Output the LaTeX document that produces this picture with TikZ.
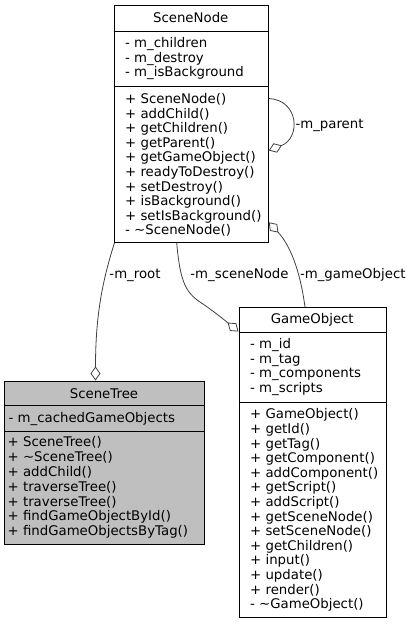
\documentclass[tikz,border=0pt]{standalone}
\usepackage{fontspec}
\setmainfont{DejaVu Sans}
\usetikzlibrary{arrows.meta,calc}
\definecolor{edgec}{HTML}{404040}
\definecolor{hlfill}{HTML}{BFBFBF}
\begin{document}
\begin{tikzpicture}[x=1pt,y=-1pt,
  classbox/.style={draw=black, line width=0.8pt, inner sep=0pt, anchor=north west},
  divider/.style={draw=black, line width=0.8pt},
  txt/.style={inner sep=0pt, yshift=-2.2pt, font=\fontsize{13.3pt}{14.6pt}\selectfont},
  mem/.style={txt, anchor=mid west},
  head/.style={txt, anchor=mid},
  elabel/.style={txt, anchor=mid},
  assoc/.style={draw=edgec, line width=0.8pt, -{Diamond[open, length=14pt, width=10pt]}}
]
\useasboundingbox (0,0) rectangle (411,624);

% ---------- SceneNode ----------
\node[classbox, minimum width=154.5pt, minimum height=237pt] (sn) at (113.5,5) {};
\draw[divider] (sn.west |- 0,31) -- (sn.east |- 0,31);
\draw[divider] (sn.west |- 0,86.5) -- (sn.east |- 0,86.5);
\node[head] (snh) at (190.75,18) {SceneNode};
\foreach \t [count=\i] in {- m\_children, - m\_destroy, - m\_isBackground}
  \node[mem] (sna\i) at (125, 28.5+14.5*\i) {\t};
\foreach \t [count=\i] in {+ SceneNode(), + addChild(), + getChildren(), + getParent(), + getGameObject(), + readyToDestroy(), + setDestroy(), + isBackground(), + setIsBackground(), - \textasciitilde SceneNode()}
  \node[mem] (snm\i) at (125, 84+14.6*\i) {\t};

% ---------- SceneTree ----------
\node[classbox, fill=hlfill, minimum width=200pt, minimum height=163pt] (st) at (4,380.5) {};
\draw[divider] (st.west |- 0,405.5) -- (st.east |- 0,405.5);
\draw[divider] (st.west |- 0,431.5) -- (st.east |- 0,431.5);
\node[head] (sth) at (104,393.5) {SceneTree};
\node[mem] (sta1) at (8.5,417.5) {- m\_cachedGameObjects};
\foreach \t [count=\i] in {+ SceneTree(), + \textasciitilde SceneTree(), + addChild(), + traverseTree(), + traverseTree(), + findGameObjectById(), + findGameObjectsByTag()}
  \node[mem] (stm\i) at (7.5, 427.2+14.8*\i) {\t};

% ---------- GameObject ----------
\node[classbox, minimum width=147.5pt, minimum height=310pt] (go) at (238.5,307) {};
\draw[divider] (go.west |- 0,332) -- (go.east |- 0,332);
\draw[divider] (go.west |- 0,402) -- (go.east |- 0,402);
\node[head] (goh) at (312.25,319) {GameObject};
\foreach \t [count=\i] in {- m\_id, - m\_tag, - m\_components, - m\_scripts}
  \node[mem] (goa\i) at (250, 329.5+14.5*\i) {\t};
\foreach \t [count=\i] in {+ GameObject(), + getId(), + getTag(), + getComponent(), + addComponent(), + getScript(), + addScript(), + getSceneNode(), + setSceneNode(), + getChildren(), + input(), + update(), + render(), - \textasciitilde GameObject()}
  \node[mem] (gom\i) at (250, 399.4+14.6*\i) {\t};

% ---------- associations ----------
% m_root : SceneNode -> SceneTree
\draw[assoc] ([xshift=1pt]sn.south west) .. controls (101,285) and (95.5,320) .. ([xshift=91.5pt]st.north west);
\node[elabel] (lroot) at (135,274) {-m\_root};

% m_sceneNode : SceneNode -> GameObject
\draw[assoc] ([xshift=63.2pt]sn.south west) .. controls (180,280) and (185,292) .. (200,302)
  .. controls (212,310) and (222,318) .. ([yshift=-24.5pt]go.north west);
\node[elabel] (lscene) at (239.5,274) {-m\_sceneNode};

% m_gameObject : GameObject -> SceneNode
\draw[assoc] ([xshift=66.5pt]go.north west) .. controls (300,270) and (290,245) .. ([yshift=20.5pt]sn.south east);
\node[elabel] (lgo) at (352.8,274) {-m\_gameObject};

% m_parent : self loop
\draw[assoc] ([yshift=-93.5pt]sn.north east) .. controls (299,100) and (301,138) .. ([yshift=-145.5pt]sn.north east);
\node[elabel] (lparent) at (329.5,123.3) {-m\_parent};
\end{tikzpicture}
\end{document}
